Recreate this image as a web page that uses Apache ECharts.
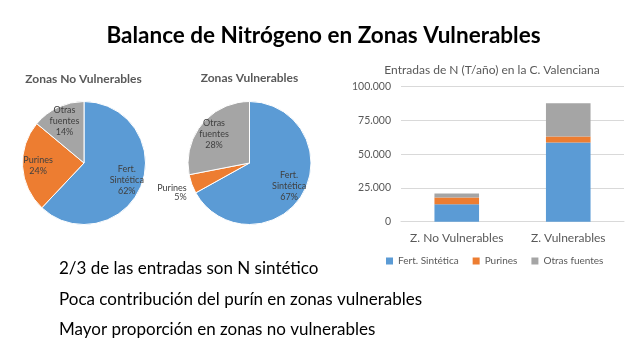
<!DOCTYPE html>
<html><head><meta charset="utf-8">
<script src="https://cdn.jsdelivr.net/npm/echarts@6/dist/echarts.min.js"></script>
<style>html,body{margin:0;padding:0;background:#fff}#c{width:640px;height:360px}</style>
</head><body><div id="c"></div>
<script>
const categories = ['Z. No Vulnerables', 'Z. Vulnerables'];
const seriesNames = ['Fert. Sintética', 'Purines', 'Otras fuentes'];
const fertSintetica = [12900, 58700];
const purines = [5000, 4400];
const otrasFuentes = [2900, 24600];
const yTicks = [0, 25000, 50000, 75000, 100000];
const pieTitles = ['Zonas No Vulnerables', 'Zonas Vulnerables'];
const notes = ['2/3 de las entradas son N sintético', 'Poca contribución del purín en zonas vulnerables', 'Mayor proporción en zonas no vulnerables'];
const mainTitle = 'Balance de Nitrógeno en Zonas Vulnerables';
const barTitle = 'Entradas de N (T/año) en la C. Valenciana';

const colors = ['#5B9BD5', '#ED7D31', '#A5A5A5'];
const FONT = 'Lato';
const values = [fertSintetica, purines, otrasFuentes];

const labelFmt = p => p.name.replace(' ', '\n') + '\n' + p.percent + '%';
function pieData(zone, mode) {
  return seriesNames.map((n, i) => {
    const d = { name: n, value: values[i][zone] };
    if (mode === 'overlay') {
      d.itemStyle = { color: 'rgba(0,0,0,0)' };
      if (zone === 1 && i === 1) d.label = { show: false };
    } else {
      d.itemStyle = { color: colors[i], borderColor: '#fff', borderWidth: 1 };
      if (zone === 1 && i === 1) {
        d.label = { show: true, position: 'outside', lineHeight: 9, formatter: p => '\n\n' + labelFmt(p) };
        d.labelLine = { show: false, length: 0, length2: 0 };
      }
    }
    return d;
  });
}
const pieCenters = [[84, 163], [249.5, 163]];

function pieSeries(zone) {
  return [
    {
      type: 'pie', center: pieCenters[zone], radius: 61.5, startAngle: 90, clockwise: true,
      percentPrecision: 0, silent: true, animation: false,
      label: { show: false, formatter: labelFmt, color: '#404040', fontSize: 9, lineHeight: 11, fontFamily: FONT, align: 'center' },
      labelLine: { show: false },
      data: pieData(zone, 'main')
    },
    {
      type: 'pie', center: pieCenters[zone], radius: 86, startAngle: 90, clockwise: true,
      percentPrecision: 0, silent: true, animation: false, z: 5,
      label: { show: true, position: 'inside', formatter: labelFmt, color: '#404040', fontSize: 9, lineHeight: 11, fontFamily: FONT },
      labelLine: { show: false },
      data: pieData(zone, 'overlay')
    }
  ];
}

const fmtNum = v => v === 0 ? '0' : String(v).replace(/\B(?=(\d{3})+(?!\d))/g, '.');

const chart = echarts.init(document.getElementById('c'), null, { renderer: 'canvas' });
chart.setOption({
  animation: false,
  backgroundColor: '#fff',
  title: [
    { text: mainTitle, left: 323.5, top: 24, padding: 0, textAlign: 'center', textStyle: { fontFamily: FONT, fontWeight: 'bold', fontSize: 22.5, color: '#000' } },
    { text: pieTitles[0], left: 83.5, top: 73, padding: 0, textAlign: 'center', textStyle: { fontFamily: FONT, fontWeight: 'bold', fontSize: 12, color: '#595959' } },
    { text: pieTitles[1], left: 249.5, top: 72, padding: 0, textAlign: 'center', textStyle: { fontFamily: FONT, fontWeight: 'bold', fontSize: 12, color: '#595959' } },
    { text: barTitle, left: 492, top: 64, padding: 0, textAlign: 'center', textStyle: { fontFamily: FONT, fontWeight: 'normal', fontSize: 12, color: '#595959' } }
  ],
  legend: {
    data: seriesNames, left: 386, top: 256, padding: 0, itemWidth: 7, itemHeight: 7, itemGap: 14,
    icon: 'rect', textStyle: { fontFamily: FONT, fontSize: 10, color: '#595959' }
  },
  grid: { left: 401, right: 16, top: 86.7, bottom: 138.3, containLabel: false },
  xAxis: {
    type: 'category', data: categories,
    axisLine: { lineStyle: { color: '#D9D9D9' } }, axisTick: { show: false },
    axisLabel: { interval: 0, fontFamily: FONT, fontSize: 12, color: '#595959', margin: 10 }
  },
  yAxis: {
    type: 'value', min: yTicks[0], max: yTicks[yTicks.length - 1], interval: yTicks[1] - yTicks[0],
    axisLine: { show: false }, axisTick: { show: false },
    splitLine: { lineStyle: { color: '#D9D9D9' } },
    axisLabel: { fontFamily: FONT, fontSize: 10.5, color: '#595959', margin: 10, formatter: fmtNum }
  },
  series: [
    ...seriesNames.map((n, i) => ({
      type: 'bar', name: n, stack: 'total', data: values[i], barWidth: '40%',
      itemStyle: { color: colors[i] }
    })),
    ...pieSeries(0), ...pieSeries(1)
  ],
  graphic: notes.map((t, i) => ({
    type: 'text', left: 59, top: [260, 291, 321][i],
    style: { text: t, fontFamily: FONT, fontSize: 17, fill: '#000' }
  }))
});
</script></body></html>
